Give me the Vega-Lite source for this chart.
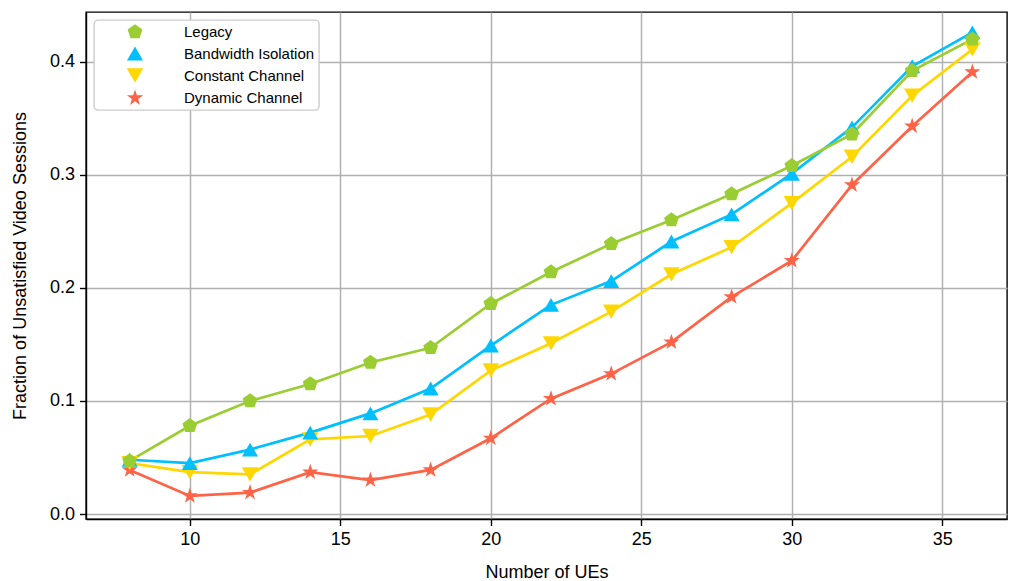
{
  "$schema": "https://vega.github.io/schema/vega-lite/v6.json",
  "autosize": "none",
  "width": 921,
  "height": 507,
  "padding": {"left": 86, "top": 12, "right": 2, "bottom": 62},
  "background": "white",
  "config": {
    "font": "Liberation Sans",
    "view": {"stroke": "black", "strokeWidth": 1.4},
    "axis": {
      "labelFontSize": 18,
      "titleFontSize": 18,
      "titleFontWeight": "normal",
      "labelColor": "black",
      "titleColor": "black",
      "tickColor": "black",
      "tickSize": 6.5,
      "tickWidth": 1.4,
      "domainColor": "black",
      "domainWidth": 1.4,
      "gridColor": "#b0b0b0",
      "gridWidth": 1.45,
      "labelPadding": 5
    },
    "legend": {
      "orient": "top-left",
      "offset": 8,
      "fillColor": "white",
      "strokeColor": "#cccccc",
      "strokeWidth": 1.4,
      "cornerRadius": 4,
      "padding": 4,
      "labelFontSize": 15,
      "labelColor": "black",
      "symbolSize": 200,
      "symbolStrokeWidth": 0,
      "symbolOffset": 28,
      "rowPadding": 5,
      "labelOffset": 40
    }
  },
  "data": {"values": [
      {"ues": 8, "series": "Dynamic Channel", "frac": 0.039},
      {"ues": 10, "series": "Dynamic Channel", "frac": 0.016},
      {"ues": 12, "series": "Dynamic Channel", "frac": 0.019},
      {"ues": 14, "series": "Dynamic Channel", "frac": 0.037},
      {"ues": 16, "series": "Dynamic Channel", "frac": 0.030},
      {"ues": 18, "series": "Dynamic Channel", "frac": 0.039},
      {"ues": 20, "series": "Dynamic Channel", "frac": 0.067},
      {"ues": 22, "series": "Dynamic Channel", "frac": 0.102},
      {"ues": 24, "series": "Dynamic Channel", "frac": 0.124},
      {"ues": 26, "series": "Dynamic Channel", "frac": 0.152},
      {"ues": 28, "series": "Dynamic Channel", "frac": 0.192},
      {"ues": 30, "series": "Dynamic Channel", "frac": 0.224},
      {"ues": 32, "series": "Dynamic Channel", "frac": 0.291},
      {"ues": 34, "series": "Dynamic Channel", "frac": 0.343},
      {"ues": 36, "series": "Dynamic Channel", "frac": 0.391},
      {"ues": 8, "series": "Constant Channel", "frac": 0.045},
      {"ues": 10, "series": "Constant Channel", "frac": 0.037},
      {"ues": 12, "series": "Constant Channel", "frac": 0.035},
      {"ues": 14, "series": "Constant Channel", "frac": 0.066},
      {"ues": 16, "series": "Constant Channel", "frac": 0.069},
      {"ues": 18, "series": "Constant Channel", "frac": 0.088},
      {"ues": 20, "series": "Constant Channel", "frac": 0.127},
      {"ues": 22, "series": "Constant Channel", "frac": 0.151},
      {"ues": 24, "series": "Constant Channel", "frac": 0.179},
      {"ues": 26, "series": "Constant Channel", "frac": 0.212},
      {"ues": 28, "series": "Constant Channel", "frac": 0.236},
      {"ues": 30, "series": "Constant Channel", "frac": 0.275},
      {"ues": 32, "series": "Constant Channel", "frac": 0.316},
      {"ues": 34, "series": "Constant Channel", "frac": 0.370},
      {"ues": 36, "series": "Constant Channel", "frac": 0.411},
      {"ues": 8, "series": "Bandwidth Isolation", "frac": 0.048},
      {"ues": 10, "series": "Bandwidth Isolation", "frac": 0.045},
      {"ues": 12, "series": "Bandwidth Isolation", "frac": 0.057},
      {"ues": 14, "series": "Bandwidth Isolation", "frac": 0.072},
      {"ues": 16, "series": "Bandwidth Isolation", "frac": 0.089},
      {"ues": 18, "series": "Bandwidth Isolation", "frac": 0.111},
      {"ues": 20, "series": "Bandwidth Isolation", "frac": 0.149},
      {"ues": 22, "series": "Bandwidth Isolation", "frac": 0.185},
      {"ues": 24, "series": "Bandwidth Isolation", "frac": 0.206},
      {"ues": 26, "series": "Bandwidth Isolation", "frac": 0.241},
      {"ues": 28, "series": "Bandwidth Isolation", "frac": 0.265},
      {"ues": 30, "series": "Bandwidth Isolation", "frac": 0.301},
      {"ues": 32, "series": "Bandwidth Isolation", "frac": 0.342},
      {"ues": 34, "series": "Bandwidth Isolation", "frac": 0.396},
      {"ues": 36, "series": "Bandwidth Isolation", "frac": 0.426},
      {"ues": 8, "series": "Legacy", "frac": 0.047},
      {"ues": 10, "series": "Legacy", "frac": 0.078},
      {"ues": 12, "series": "Legacy", "frac": 0.100},
      {"ues": 14, "series": "Legacy", "frac": 0.115},
      {"ues": 16, "series": "Legacy", "frac": 0.134},
      {"ues": 18, "series": "Legacy", "frac": 0.147},
      {"ues": 20, "series": "Legacy", "frac": 0.186},
      {"ues": 22, "series": "Legacy", "frac": 0.214},
      {"ues": 24, "series": "Legacy", "frac": 0.239},
      {"ues": 26, "series": "Legacy", "frac": 0.260},
      {"ues": 28, "series": "Legacy", "frac": 0.283},
      {"ues": 30, "series": "Legacy", "frac": 0.308},
      {"ues": 32, "series": "Legacy", "frac": 0.336},
      {"ues": 34, "series": "Legacy", "frac": 0.392},
      {"ues": 36, "series": "Legacy", "frac": 0.420}
  ]},
  "encoding": {
    "x": {
      "field": "ues", "type": "quantitative",
      "scale": {"domain": [6.55, 37.15], "nice": false, "zero": false},
      "axis": {"values": [10, 15, 20, 25, 30, 35], "title": "Number of UEs", "titlePadding": 15, "grid": true}
    },
    "y": {
      "field": "frac", "type": "quantitative",
      "scale": {"domain": [-0.0044, 0.444], "nice": false, "zero": false},
      "axis": {"values": [0, 0.1, 0.2, 0.3, 0.4], "format": ".1f", "title": "Fraction of Unsatisfied Video Sessions", "titlePadding": 20, "grid": true}
    },
    "color": {
      "field": "series", "type": "nominal",
      "scale": {
        "domain": ["Legacy", "Bandwidth Isolation", "Constant Channel", "Dynamic Channel"],
        "range": ["#9ACD32", "#00BFFF", "#FFD700", "#FF6347"]
      },
      "legend": {"title": null}
    }
  },
  "layer": [
    {
      "mark": {"type": "line", "strokeWidth": 2.7}
    },
    {
      "mark": {"type": "point", "filled": true, "opacity": 1},
      "encoding": {
        "shape": {
          "field": "series", "type": "nominal",
          "scale": {
            "domain": ["Legacy", "Bandwidth Isolation", "Constant Channel", "Dynamic Channel"],
            "range": [
              "M0,-1L0.951,-0.309L0.588,0.809L-0.588,0.809L-0.951,-0.309Z",
              "triangle-up",
              "triangle-down",
              "M0,-1L0.225,-0.309L0.951,-0.309L0.363,0.118L0.588,0.809L0,0.382L-0.588,0.809L-0.363,0.118L-0.951,-0.309L-0.225,-0.309Z"
            ]
          },
          "legend": {"title": null}
        },
        "size": {
          "field": "series", "type": "nominal",
          "scale": {
            "domain": ["Legacy", "Bandwidth Isolation", "Constant Channel", "Dynamic Channel"],
            "range": [240, 290, 290, 200]
          },
          "legend": null
        }
      }
    }
  ]
}
